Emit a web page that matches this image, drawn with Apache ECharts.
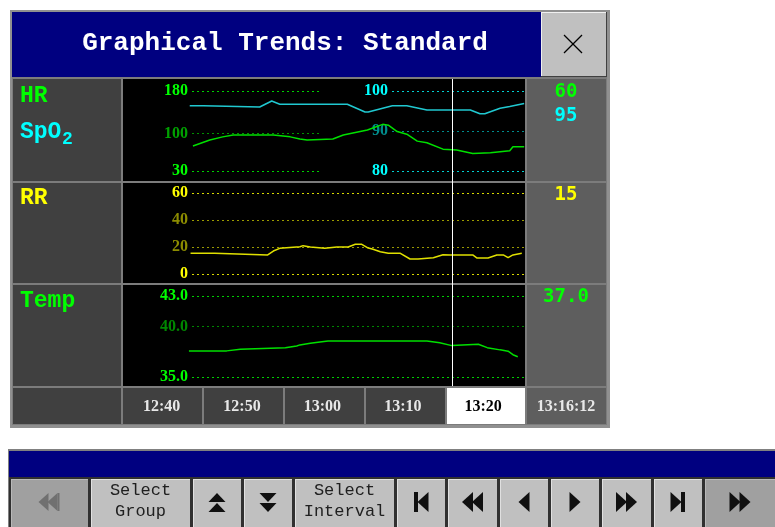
<!DOCTYPE html>
<html>
<head>
<meta charset="utf-8">
<script src="https://cdn.jsdelivr.net/npm/echarts@6/dist/echarts.min.js"></script>
<style>
  html, body { margin: 0; padding: 0; background: #ffffff; }
  #chart { width: 775px; height: 527px; }
</style>
</head>
<body>
<div id="chart"></div>
<script>
// ---- Trend samples (time = minutes after 12:00) ----
const hrTime   = [43.9, 46.0, 47.6, 48.9, 53.9, 56.0, 57.2, 58.1, 61.3, 62.6, 65.6, 67.5, 68.2, 69.3, 70.5, 71.8, 73.0, 75.0, 76.7, 78.7, 80.9, 83.3, 83.7, 85.1];
const hrValues = [77, 88, 94, 97.5, 97.5, 94, 90, 88, 90, 97.5, 107, 117.5, 116, 104, 99, 86, 83, 71, 69.5, 63, 64, 68, 75.5, 75.5];

const spo2Time   = [43.5, 45.2, 45.3, 52.2, 53.7, 54.7, 63.1, 65.3, 65.7, 68.7, 70.5, 73.0, 78.4, 79.6, 80.2, 82.1, 83.3, 85.1];
const spo2Values = [96.3, 96.3, 96.0, 96.0, 97.5, 96.7, 96.7, 94.75, 94.75, 96.3, 96.3, 95.25, 95.25, 94.3, 94.3, 95.7, 96.1, 96.9];

const rrTime   = [43.6, 46.6, 46.7, 53.2, 53.9, 54.7, 57.2, 57.6, 58.5, 60.3, 61.8, 63.2, 64.1, 64.9, 65.6, 66.3, 67.2, 68.2, 69.7, 70.9, 71.9, 73.8, 75.0, 75.9, 78.7, 79.2, 80.6, 81.7, 82.5, 83.1, 83.7, 84.8];
const rrValues = [15.3, 15.3, 14.1, 14.1, 17, 19, 20.2, 21, 20, 19, 20, 20, 22, 22, 19.5, 18.3, 16.5, 15.3, 15.3, 11.1, 11.1, 12.1, 14.3, 14.1, 14.1, 11.9, 11.9, 14.1, 14.1, 12.1, 14.1, 15.3];

const tempTime   = [43.4, 48.1, 48.2, 49.8, 49.9, 55.4, 55.5, 56.8, 57.2, 58.5, 59.7, 60.7, 73.0, 74.6, 76.1, 76.2, 79.4, 80.5, 82.1, 83.1, 83.7, 84.3];
const tempValues = [37.58, 37.58, 37.75, 37.75, 37.9, 37.9, 38.07, 38.07, 38.17, 38.33, 38.46, 38.56, 38.56, 38.39, 38.1, 38.24, 38.24, 37.9, 37.68, 37.55, 37.2, 37.0];

// ---- Scales and tick labels ----
const hrTicks   = [30, 100, 180];
const spo2Ticks = [80, 90, 100];
const rrTicks   = [0, 20, 40, 60];
const tempTicks = [35.0, 40.0, 43.0];
const timeTicks = [40, 50, 60, 70, 80];      // 12:40 ... 13:20
const selectedTime = 80;                      // highlighted time cell
const cursorTime = '13:16:12';

// ---- Current readings ----
const currentHR = 60;
const currentSpO2 = 95;
const currentRR = 15;
const currentTemp = 37.0;

// ---- Text ----
const titleText = 'Graphical Trends: Standard';
const buttonLabels = ['Select\nGroup', 'Select\nInterval'];

const MONO = '"Liberation Mono", "Courier New", monospace';
const SERIF = '"Liberation Serif", "Times New Roman", serif';
const DIGITS = '"DejaVu Sans Mono", monospace';

const T_MIN = 35.2, T_MAX = 85.2;

function pairs(t, v) { return t.map((x, i) => [x, v[i]]); }
function hhmm(m) {
  const h = 12 + Math.floor(m / 60), mm = Math.round(m % 60);
  return h + ':' + String(mm).padStart(2, '0');
}
function toMinutes(s) {
  const p = s.split(':').map(Number);
  return (p[0] - 12) * 60 + p[1] + p[2] / 60;
}

// Hidden x axis shared by every panel
function xHidden(gi) {
  return { type: 'value', gridIndex: gi, min: T_MIN, max: T_MAX, show: false };
}
function xDummy(gi) {
  return { type: 'value', gridIndex: gi, min: 0, max: 1, show: false };
}
function yHidden(gi, min, max) {
  return { type: 'value', gridIndex: gi, min: min, max: max, show: false };
}
// Visible scale with dotted guides
function yScale(gi, min, max, ticks, labelColors, lineColors, fmt) {
  return {
    type: 'value', gridIndex: gi, min: min, max: max,
    axisLine: { show: false },
    axisTick: { show: false, customValues: ticks },
    axisLabel: {
      customValues: ticks,
      margin: 4,
      fontFamily: SERIF, fontWeight: 'bold', fontSize: 16,
      formatter: fmt || (v => String(v)),
      color: (v) => labelColors[ticks.indexOf(Number(v))] || labelColors[0]
    },
    splitLine: {
      show: true,
      lineStyle: { color: lineColors, width: 1, type: [2, 3] }
    }
  };
}

const chart = echarts.init(document.getElementById('chart'), null, { renderer: 'canvas' });

// ---- Panel frame, cells and toolbar ----
const g = [];
function rect(x, y, w, h, fill, z) {
  g.push({ type: 'rect', z: z == null ? -10 : z, shape: { x: x, y: y, width: w, height: h }, style: { fill: fill }, silent: true });
}
function line(x1, y1, x2, y2, stroke, w, z) {
  g.push({ type: 'line', z: z == null ? -5 : z, shape: { x1: x1, y1: y1, x2: x2, y2: y2 }, style: { stroke: stroke, lineWidth: w || 1 }, silent: true });
}
function text(x, y, str, font, fill, align, z) {
  g.push({ type: 'text', z: z == null ? 10 : z, x: x, y: y, silent: true,
    style: { text: str, font: font, fill: fill, textAlign: align || 'left', textVerticalAlign: 'middle' } });
}
function poly(points, fill) {
  g.push({ type: 'polygon', z: 10, shape: { points: points }, style: { fill: fill }, silent: true });
}

// main panel
rect(10, 10, 600, 418, '#909090');
rect(12, 12, 529, 65, '#000080');
rect(541, 12, 66, 65, '#c0c0c0');
line(541, 12.5, 607, 12.5, '#f0f0f0', 1);
line(541.5, 12, 541.5, 77, '#f0f0f0', 1);
line(541, 76.5, 607, 76.5, '#404040', 1);
line(606.5, 12, 606.5, 77, '#404040', 1);
line(564, 35, 582, 53, '#000000', 1.3, 10);
line(582, 35, 564, 53, '#000000', 1.3, 10);
text(285, 43, titleText, 'bold 26px ' + MONO, '#ffffff', 'center');

rect(12, 77, 595, 348, '#7c7c7c');
const rows = [[79, 102], [183, 100], [285, 101]];
rows.forEach(r => {
  rect(13, r[0], 108, r[1], '#404040');
  rect(123, r[0], 402, r[1], '#000000');
  rect(527, r[0], 79, r[1], '#5e5e5e');
});
// time row cells
rect(13, 388, 108, 36, '#404040');
[123, 204, 285, 366, 447].forEach((x, i) => {
  rect(x, 388, i === 4 ? 78 : 79, 36, timeTicks[i] === selectedTime ? '#ffffff' : '#404040');
});
rect(527, 388, 79, 36, '#5e5e5e');
text(566, 407, cursorTime, 'bold 16px ' + SERIF, '#e8e8e8', 'center');

// parameter names
const NAME = 'bold 23px ' + MONO;
text(20, 96, 'HR', NAME, '#00ff00');
text(20, 132, 'SpO', NAME, '#00ffff');
text(62, 139, '2', 'bold 18px ' + MONO, '#00ffff');
text(20, 198, 'RR', NAME, '#ffff00');
text(20, 301, 'Temp', NAME, '#00ff00');

// current readings
const VAL = 'bold 19px ' + DIGITS;
text(566, 92, String(currentHR), VAL, '#00ff00', 'center');
text(566, 116, String(currentSpO2), VAL, '#00ffff', 'center');
text(566, 195, String(currentRR), VAL, '#ffff00', 'center');
text(566, 297, currentTemp.toFixed(1), VAL, '#00ff00', 'center');

// toolbar
rect(8, 449, 767, 78, '#808080');
rect(9, 451, 766, 26, '#000080');
rect(9, 477, 766, 50, '#303030');
const buttons = [
  [9, 88, 'first', true], [89, 190, 0], [191, 241, 'upup'], [242, 292, 'dndn'],
  [293, 394, 1], [395, 445, 'barL'], [446, 497, 'LL'], [498, 548, 'L'],
  [549, 599, 'R'], [600, 651, 'RR'], [652, 702, 'barR'], [703, 775, 'RR', true]
];
function triL(cx, cy, w, h, f) { poly([[cx + w / 2, cy - h / 2], [cx + w / 2, cy + h / 2], [cx - w / 2, cy]], f); }
function triR(cx, cy, w, h, f) { poly([[cx - w / 2, cy - h / 2], [cx - w / 2, cy + h / 2], [cx + w / 2, cy]], f); }
function triU(cx, cy, w, h, f) { poly([[cx - w / 2, cy + h / 2], [cx + w / 2, cy + h / 2], [cx, cy - h / 2]], f); }
function triD(cx, cy, w, h, f) { poly([[cx - w / 2, cy - h / 2], [cx + w / 2, cy - h / 2], [cx, cy + h / 2]], f); }
buttons.forEach(b => {
  const x1 = b[0], x2 = b[1], kind = b[2], dim = b[3];
  const w = x2 - x1 - 2;
  rect(x1 + 2, 479, w, 48, dim ? '#a0a0a0' : '#c0c0c0', -9);
  line(x1 + 2, 479.5, x2, 479.5, dim ? '#b8b8b8' : '#e0e0e0', 1);
  line(x1 + 2.5, 479, x1 + 2.5, 527, dim ? '#b8b8b8' : '#e0e0e0', 1);
  const cx = (x1 + x2) / 2 + 1, cy = 502;
  const ink = '#101010';
  if (typeof kind === 'number') {
    const parts = buttonLabels[kind].split('\n');
    text(cx, 490, parts[0], '17px ' + MONO, '#202020', 'center');
    text(cx, 511, parts[1], '17px ' + MONO, '#202020', 'center');
  } else if (kind === 'first') {
    triL(cx - 6, cy, 10, 18, '#707070'); triL(cx + 3, cy, 10, 18, '#707070');
    rect(cx + 8, cy - 9, 2, 18, '#707070', 10);
  } else if (kind === 'upup') {
    triU(cx, cy - 4.5, 17, 9, ink); triU(cx, cy + 5.5, 17, 9, ink);
  } else if (kind === 'dndn') {
    triD(cx, cy - 4.5, 17, 9, ink); triD(cx, cy + 5.5, 17, 9, ink);
  } else if (kind === 'barL') {
    rect(cx - 7, cy - 10, 4, 20, ink, 10); triL(cx + 2, cy, 11, 20, ink);
  } else if (kind === 'LL') {
    triL(cx - 5, cy, 11, 20, ink); triL(cx + 5, cy, 11, 20, ink);
  } else if (kind === 'L') {
    triL(cx, cy, 11, 20, ink);
  } else if (kind === 'R') {
    triR(cx, cy, 11, 20, ink);
  } else if (kind === 'RR') {
    triR(cx - 5, cy, 11, 20, ink); triR(cx + 5, cy, 11, 20, ink);
  } else if (kind === 'barR') {
    triR(cx - 2, cy, 11, 20, ink); rect(cx + 3, cy - 10, 4, 20, ink, 10);
  }
});

// ---- Chart option ----
const option = {
  animation: false,
  backgroundColor: '#ffffff',
  graphic: { elements: g },
  grid: [
    { left: 123, top: 91, width: 402, height: 80 },   // 0 HR / SpO2 data
    { left: 192, top: 91, width: 130, height: 80 },   // 1 HR scale
    { left: 392, top: 91, width: 132, height: 80 },   // 2 SpO2 scale
    { left: 123, top: 193, width: 402, height: 81 },  // 3 RR data
    { left: 192, top: 193, width: 332, height: 81 },  // 4 RR scale
    { left: 123, top: 296, width: 402, height: 81 },  // 5 Temp data + time labels
    { left: 192, top: 296, width: 332, height: 81 },  // 6 Temp scale
    { left: 123, top: 79, width: 402, height: 307 }   // 7 cursor
  ],
  xAxis: [
    xHidden(0), xDummy(1), xDummy(2), xHidden(3), xDummy(4),
    {
      type: 'value', gridIndex: 5, min: T_MIN, max: T_MAX,
      axisLine: { show: false }, axisTick: { show: false, customValues: timeTicks },
      splitLine: { show: false },
      axisLabel: {
        customValues: timeTicks, margin: 22,
        fontFamily: SERIF, fontWeight: 'bold', fontSize: 16,
        formatter: v => hhmm(v),
        color: v => Number(v) === selectedTime ? '#000000' : '#e8e8e8'
      }
    },
    xDummy(6), xHidden(7)
  ],
  yAxis: [
    yHidden(0, 30, 180),
    yHidden(0, 80, 100),
    yScale(1, 30, 180, hrTicks, ['#00ff00', '#00a000', '#00ff00'], ['#00d000', '#009000', '#00d000']),
    yScale(2, 80, 100, spo2Ticks, ['#00ffff', '#008c8c', '#00ffff'], ['#00d0d0', '#008c8c', '#00d0d0']),
    yHidden(3, 0, 60),
    yScale(4, 0, 60, rrTicks, ['#ffff00', '#8c8c00', '#8c8c00', '#ffff00'], ['#d8d800', '#9a9a00', '#9a9a00', '#d8d800']),
    yHidden(5, 35, 43),
    yScale(6, 35, 43, tempTicks, ['#00ff00', '#008800', '#00ff00'], ['#00d000', '#008800', '#00d000'], v => Number(v).toFixed(1)),
    yHidden(7, 0, 1)
  ],
  series: [
    { name: 'HR', type: 'line', xAxisIndex: 0, yAxisIndex: 0, data: pairs(hrTime, hrValues),
      showSymbol: false, lineStyle: { color: '#00e000', width: 1.5 }, silent: true },
    { name: 'SpO2', type: 'line', xAxisIndex: 0, yAxisIndex: 1, data: pairs(spo2Time, spo2Values),
      showSymbol: false, lineStyle: { color: '#20c8d0', width: 1.5 }, silent: true },
    { name: 'RR', type: 'line', xAxisIndex: 3, yAxisIndex: 4, data: pairs(rrTime, rrValues),
      showSymbol: false, lineStyle: { color: '#e0e000', width: 1.5 }, silent: true },
    { name: 'Temp', type: 'line', xAxisIndex: 5, yAxisIndex: 6, data: pairs(tempTime, tempValues),
      showSymbol: false, lineStyle: { color: '#00e000', width: 1.5 }, silent: true },
    { name: 'Cursor', type: 'line', xAxisIndex: 7, yAxisIndex: 8, data: [], silent: true,
      markLine: { silent: true, symbol: ['none', 'none'], label: { show: false },
        lineStyle: { color: '#ffffff', width: 1, type: 'solid' },
        data: [{ xAxis: toMinutes(cursorTime) }] } }
  ]
};
chart.setOption(option);
</script>
</body>
</html>
